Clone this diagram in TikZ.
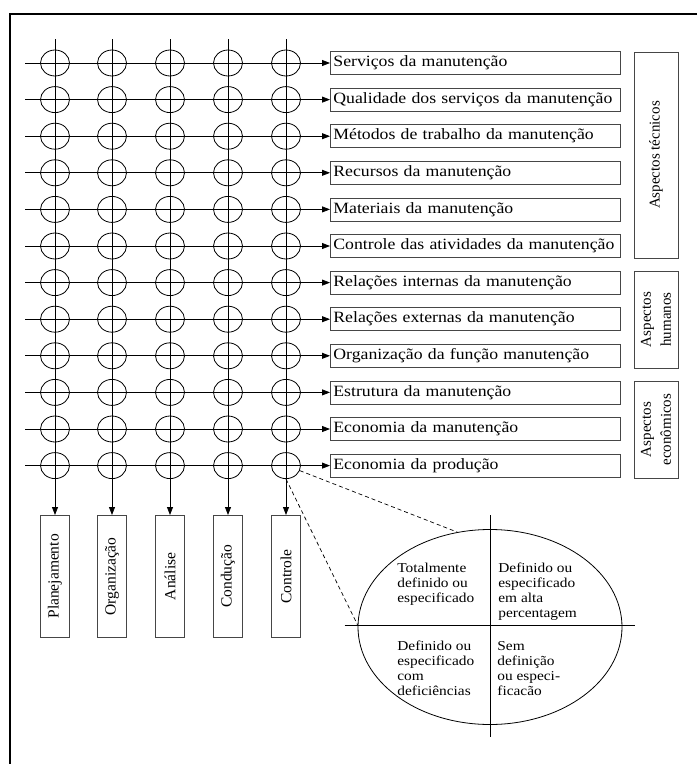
\documentclass[tikz,border=0pt]{standalone}
\usepackage{fontspec}
\setmainfont[FakeStretch=1.13]{Liberation Serif}
\newfontfamily\uprightfont{Liberation Serif}
\usetikzlibrary{arrows.meta,shapes.geometric}
\definecolor{boxgray}{RGB}{70,70,70}

\tikzset{
  grade/.style={ellipse,draw,minimum width=29pt,minimum height=26pt,inner sep=0pt},
  aspecto/.style={draw=boxgray,anchor=west,text width=284pt,align=left,
    minimum height=23pt,inner xsep=3pt,inner ysep=0pt,font=\fontsize{15.7}{18}\selectfont},
  grupo/.style={draw=boxgray,minimum width=44pt,inner sep=0pt},
  funcao/.style={draw=boxgray,anchor=north,minimum width=29pt,minimum height=122pt,inner sep=0pt},
  vertical/.style={rotate=90,align=center},
  quadro/.style={align=left,anchor=north west,inner sep=0pt,font=\fontsize{13.6}{15}\selectfont}
}

\begin{document}
\begin{tikzpicture}[x=1pt,y=-1pt,line width=0.8pt,>={Triangle[length=8pt,width=6pt]}]
  \useasboundingbox (0,0) rectangle (697,764);
  % frame:
  \draw[line width=1.2pt] (697,14) -- (10,14) -- (10,764);

  % aspects (rows):
  \foreach \txt [count=\r from 0] in {Serviços da manutenção,
      Qualidade dos serviços da manutenção, Métodos de trabalho da manutenção,
      Recursos da manutenção, Materiais da manutenção,
      Controle das atividades da manutenção, Relações internas da manutenção,
      Relações externas da manutenção, Organização da função manutenção,
      Estrutura da manutenção, Economia da manutenção, Economia da produção}
  {
    \node[aspecto] (a\r) at (330,63+36.6*\r) {\txt};
    \coordinate (l\r) at (25,63+36.6*\r);
    \draw[->] (l\r) -- (a\r.west);
  }

  % functions (columns):
  \foreach \x/\txt [count=\c] in {55/Planejamento, 112/Organização,
      170/Análise, 228/Condução, 286/Controle}
  {
    \node[funcao] (f\c) at (\x,515) {};
    \node[vertical,font=\uprightfont\fontsize{15.5}{18}\selectfont] at (f\c) {\txt};
    \coordinate (t\c) at (\x,39);
    \draw[->] (t\c) -- (f\c.north);
    \foreach \r in {0,...,11}
      \node[grade] (c\r-\c) at (\x,63+36.6*\r) {};
  }

  % groups:
  \begin{scope}[font=\uprightfont\fontsize{15}{20}\selectfont]
    \node[grupo,minimum height=206pt] (tec) at (656,155) {};
    \node[vertical] at (tec) {Aspectos técnicos};
    \node[grupo,minimum height=97pt] (hum) at (656,319.5) {};
    \node[vertical] at (hum) {Aspectos\\humanos};
    \node[grupo,minimum height=97pt] (eco) at (656,429.5) {};
    \node[vertical] at (eco) {Aspectos\\econômicos};
  \end{scope}

  % detail of one crossing:
  \node[ellipse,draw,minimum width=264pt,minimum height=195pt,inner sep=0pt] (quad) at (490,627) {};
  \draw ([yshift=14pt]quad.north) -- ([yshift=-12pt]quad.south);
  \draw ([xshift=-13pt,yshift=2pt]quad.west) -- ([xshift=13pt,yshift=2pt]quad.east);
  \draw[dashed,line width=0.7pt,dash pattern=on 4pt off 3pt] (c11-5.-20) -- (quad.109);
  \draw[dashed,line width=0.7pt,dash pattern=on 4pt off 3pt] (c11-5.south) -- ([yshift=2pt]quad.west);

  \node[quadro] (q1) at (397,563) {Totalmente\\definido ou\\especificado};
  \node[quadro] (q2) at (498,563) {Definido ou\\especificado\\em alta\\percentagem};
  \node[quadro] (q3) at (397,641) {Definido ou\\especificado\\com\\deficiências};
  \node[quadro] (q4) at (497,641) {Sem\\definição\\ou especi-\\ficacão};
\end{tikzpicture}
\end{document}
